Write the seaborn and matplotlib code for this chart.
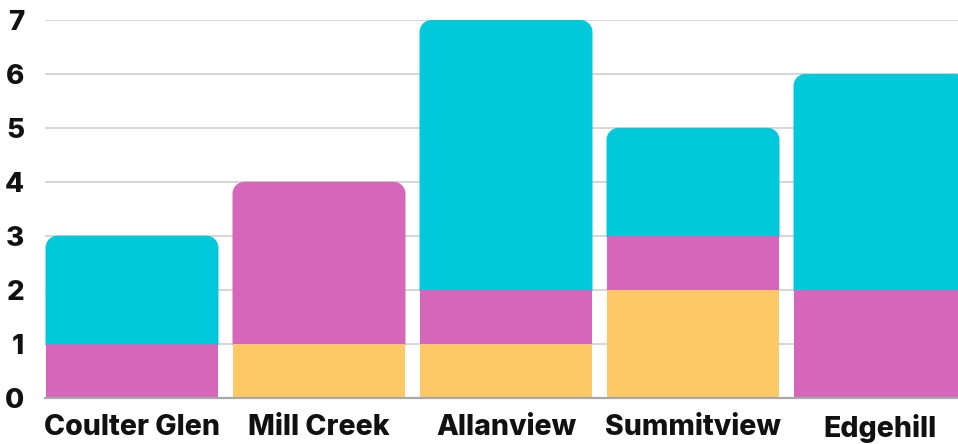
import numpy as np
import pandas as pd
import seaborn as sns
import matplotlib.pyplot as plt
from matplotlib.patches import Polygon

sns.set_theme(style="white")
plt.rcParams['font.family'] = ['Inter', 'DejaVu Sans']

# === data ===
neighborhoods = ["Coulter Glen", "Mill Creek", "Allanview", "Summitview", "Edgehill"]
yellow_vals = [0, 1, 1, 2, 0]
magenta_vals = [1, 3, 1, 1, 2]
cyan_vals = [2, 0, 5, 2, 4]
y_ticks = [0, 1, 2, 3, 4, 5, 6, 7]

CYAN = "#00C9DB"
MAGENTA = "#D666BA"
YELLOW = "#FDC866"

df = pd.DataFrame({"area": neighborhoods, "yellow": yellow_vals,
                   "magenta": magenta_vals, "cyan": cyan_vals})
df["mid"] = df["yellow"] + df["magenta"]
df["total"] = df["mid"] + df["cyan"]

W, H = 958, 444
fig = plt.figure(figsize=(W / 100, H / 100), dpi=100)
ax_l, ax_r, ax_b, ax_t = 45, 958, 397.5, 20
ax = fig.add_axes([ax_l / W, (H - ax_b) / H, (ax_r - ax_l) / W, (ax_b - ax_t) / H])

# draw each segment with seaborn, then move it onto its stack base
# (upper segments reach slightly under the lower ones to hide seams)
bar_w = 0.925
overlap = 0.03
segments = [("yellow", None, YELLOW, 2.3), ("magenta", "yellow", MAGENTA, 2.2),
            ("cyan", "mid", CYAN, 2.1)]
for col, base, color, z in segments:
    n0 = len(ax.patches)
    sns.barplot(data=df, x="area", y=col, color=color, saturation=1,
                width=bar_w, linewidth=0, ax=ax)
    for k, p in enumerate(ax.patches[n0:]):
        p.set_zorder(z)
        if base is not None and p.get_height() > 0:
            b = df[base].iloc[k]
            if b > 0:
                p.set_y(b - overlap)
                p.set_height(p.get_height() + overlap)
            else:
                p.set_y(b)

pitch = 187.0
ax.set_xlim((ax_l - 132) / pitch, (ax_r - 132) / pitch)
ax.set_ylim(0, 7)

# round the top corners of the top segment of each bar
px_per_y = (ax_b - ax_t) / 7
rx = 12 / pitch
ry = 12 / px_per_y
totals = df["total"].tolist()


def top_rounded(x, y, w, h, color, z):
    t = np.linspace(0, np.pi / 2, 12)
    top = y + h
    pts = [(x, y), (x + w, y)]
    pts += [(x + w - rx + rx * np.cos(a), top - ry + ry * np.sin(a)) for a in t]
    pts += [(x + rx - rx * np.cos(a), top - ry + ry * np.sin(a)) for a in t[::-1]]
    return Polygon(pts, closed=True, facecolor=color, edgecolor="none",
                   linewidth=0, zorder=z)


for p in list(ax.patches):
    h = p.get_height()
    if h <= 0:
        continue
    i = int(round(p.get_x() + p.get_width() / 2))
    if abs(p.get_y() + h - totals[i]) < 1e-9:
        ax.add_patch(top_rounded(p.get_x(), p.get_y(), p.get_width(), h,
                                 p.get_facecolor(), p.get_zorder()))
        p.remove()

ax.set_yticks(y_ticks)
ax.yaxis.grid(True, color="#D3D3D3", linewidth=1.3)
ax.xaxis.grid(False)
ax.set_axisbelow(True)
ax.axhline(0, color="#A8A8A8", linewidth=1.6, zorder=3, clip_on=False)
sns.despine(ax=ax, left=True, bottom=True)

ax.set_xlabel("")
ax.set_ylabel("")
ax.tick_params(axis="both", length=0)
ax.tick_params(axis="y", pad=15, labelsize=20, labelcolor="#111111")
ax.tick_params(axis="x", pad=12, labelsize=20.5, labelcolor="#111111")
for lab in ax.get_xticklabels() + ax.get_yticklabels():
    lab.set_fontweight("heavy")

fig.savefig("out.png", dpi=100)
